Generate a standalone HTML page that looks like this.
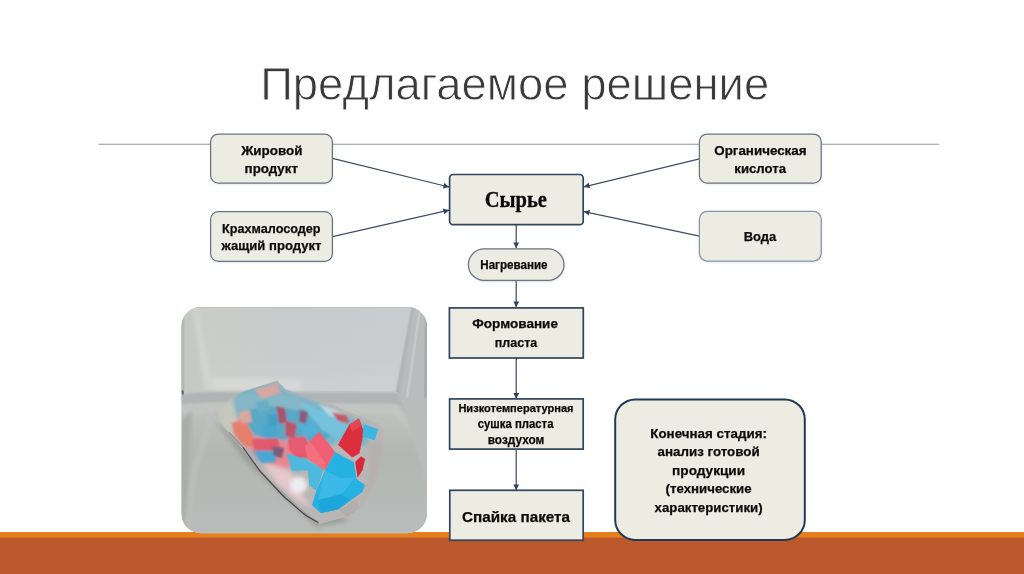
<!DOCTYPE html>
<html lang="ru">
<head>
<meta charset="utf-8">
<title>Предлагаемое решение</title>
<style>
html,body{margin:0;padding:0;background:#fff;}
body{width:1024px;height:574px;overflow:hidden;position:relative;font-family:"Liberation Sans",sans-serif;}
svg{position:absolute;left:0;top:0;display:block;}
text{font-family:"Liberation Sans",sans-serif;}
.b{font-weight:bold;fill:#0a0a0a;stroke:#0a0a0a;stroke-width:0.25px;}
.s{font-family:"Liberation Serif",serif;font-weight:bold;fill:#0a0a0a;stroke:#0a0a0a;stroke-width:0.3px;}
</style>
</head>
<body>
<svg width="1024" height="574" viewBox="0 0 1024 574">
<defs>
  <marker id="ah" viewBox="0 0 10 10" refX="9.6" refY="5" markerWidth="5.8" markerHeight="5.8" markerUnits="userSpaceOnUse" orient="auto">
    <path d="M0,0 L10,5 L0,10 z" fill="#30435c"/>
  </marker>
  <filter id="sh" x="-10%" y="-10%" width="120%" height="130%">
    <feGaussianBlur stdDeviation="1.2"/>
  </filter>
  <clipPath id="bagc"><polygon points="228.8,400 241.3,392.2 277.4,380.5 285.2,389 300,394 324,401 352,413 378,423 384,432 382,460 373,488 361,508 342,518 320,524 300,508 270,480 248,456 230.4,434.6 219.4,422 214.7,412.6"/></clipPath>
  <clipPath id="pc"><rect x="181.6" y="307" width="245.3" height="226.2" rx="19.5" ry="19.5"/></clipPath>
  <linearGradient id="wallg" x1="0" y1="0" x2="1" y2="0"><stop offset="0" stop-color="#cfd2d1"/><stop offset="0.5" stop-color="#d0d4d5"/><stop offset="1" stop-color="#cbd0d2"/></linearGradient>
  <linearGradient id="wallv" x1="0" y1="0" x2="0" y2="1"><stop offset="0" stop-color="#c5c9cb"/><stop offset="0.6" stop-color="#c8ccce"/><stop offset="1" stop-color="#d0d3d4"/></linearGradient>
  <linearGradient id="wallh" x1="0" y1="0" x2="1" y2="0"><stop offset="0" stop-color="#cbcdc4" stop-opacity="0.85"/><stop offset="0.45" stop-color="#cacdca" stop-opacity="0.3"/><stop offset="0.8" stop-color="#cbcfd1" stop-opacity="0.5"/><stop offset="1" stop-color="#cbcfd1" stop-opacity="0.5"/></linearGradient>
  <linearGradient id="floorg" gradientUnits="userSpaceOnUse" x1="0" y1="392" x2="0" y2="534"><stop offset="0" stop-color="#c5c8c5"/><stop offset="0.15" stop-color="#bdc0bd"/><stop offset="0.45" stop-color="#b3b7b4"/><stop offset="1" stop-color="#b8bcba"/></linearGradient>
  <filter id="bl1"><feGaussianBlur stdDeviation="0.6"/></filter>
  <filter id="bl3"><feGaussianBlur stdDeviation="0.95"/></filter>
  <filter id="bl4" x="-30%" y="-30%" width="160%" height="160%"><feGaussianBlur stdDeviation="5"/></filter>
  <filter id="bl2"><feGaussianBlur stdDeviation="2"/></filter>
</defs>

<!-- bottom bars -->
<rect x="0" y="532" width="1024" height="6" fill="#e5801c"/>
<rect x="0" y="537.5" width="1024" height="36.5" fill="#bd582c"/>

<!-- title -->
<text opacity="0.995" x="260.2" y="99.7" font-size="46" fill="#3a3a3a" stroke="#fff" stroke-width="0.8" textLength="509" lengthAdjust="spacingAndGlyphs">Предлагаемое решение</text>

<!-- rule -->
<rect x="98.5" y="143.7" width="840.5" height="1.1" fill="#9aa0a6"/>

<!-- photo -->
<g id="photo" clip-path="url(#pc)">
  <!-- back wall -->
  <rect x="181" y="306" width="247" height="228" fill="#c6cacc"/>
  <rect x="181" y="306" width="247" height="90" fill="url(#wallv)"/>
  <rect x="181" y="306" width="247" height="90" fill="url(#wallh)"/>
  <!-- left wall -->
  <polygon points="181,306 193,306 212,400 181,400" fill="#c5c9c4"/>
  <polygon points="193,308 197,308 213,392 205,392" fill="#d2d5d3" filter="url(#bl2)"/>
  <polygon points="181,306 184,306 184,392 181,392" fill="#aeb3b0" filter="url(#bl3)"/>
  <!-- right wall -->
  <polygon points="411.8,306 428,306 428,424 396,392.3" fill="#b8bcbc"/>
  <polygon points="411.8,306 414.5,306 399.5,396 396,392.3" fill="#b0b4b4" filter="url(#bl3)"/>
  <polygon points="419,306 421.5,306 408,402 405.5,400" fill="#c6c9c8" filter="url(#bl1)"/>
  <polygon points="425,306 428,306 428,424 424,418" fill="#a6aaa9" filter="url(#bl1)"/>
  <rect x="181" y="306" width="247" height="1.6" fill="#b4b8b7" opacity="0.8"/>
  <!-- floor -->
  <polygon points="181,391 211,389.5 396,391.5 428,420 428,534 181,534" fill="url(#floorg)"/>
  <polygon points="212,378 300,380 300,390.5 212,390" fill="#dadcda" opacity="0.75" filter="url(#bl2)"/>
  <polygon points="181,394 211,392 397,393 428,422 428,434 397,404 212,402.5 181,404" fill="#b0b4b5" filter="url(#bl3)"/>
  <polygon points="181,407 212,405 396,406 428,440 428,452 394,414 214,412 181,416" fill="#c3c6c3" filter="url(#bl2)"/>
  <!-- right wall lower triangle -->
  <polygon points="400,398 428,398 428,488" fill="#b9bcbb" filter="url(#bl3)"/>
  <polygon points="181,420 192,410 185,534 181,534" fill="#a9aca8" filter="url(#bl2)"/>
  <polygon points="209,416 213,420 196,474 188,534 184,534 192,470" fill="#bfc2be" opacity="0.8" filter="url(#bl2)"/>
  <rect x="181.5" y="390.5" width="2.2" height="4" fill="#5e6261" filter="url(#bl1)"/>
  <!-- bag shadow -->
  <polygon points="214,420 246,462 316,527 350,521 300,500 250,450" fill="#9b9e9b" filter="url(#bl2)"/>
  <!-- bag hull -->
  <polygon points="228.8,400 241.3,392.2 277.4,380.5 285.2,389 300,394 324,401 352,413 378,423 384,432 382,460 373,488 361,508 342,518 320,524 300,508 270,480 248,456 230.4,434.6 219.4,422 214.7,412.6" fill="#bab6b5" filter="url(#bl1)"/>
  <!-- haze layers -->
  <g clip-path="url(#bagc)"><g filter="url(#bl2)">
    <polygon points="231.6,401.6 246,387.2 277.6,382.9 286.2,391.6 315,401.6 335,413.1 355.2,418.9 372,428 366,446 340,440 318,452 300,470 286,473 257.5,462 243.1,441.8 234.5,421.7" fill="#74b4ca"/>
    <polygon points="229,418 246,418 254,436 282,438 300,448 304,460 286,470 262,462 246,446 234,432" fill="#e58890"/>
    <polygon points="262,462 290,470 300,492 312,508 296,500 276,482" fill="#e4c8cc"/>
    <polygon points="215,408 232,399 238,420 232,437 221,425" fill="#c6c8bd"/>
  </g>
  <!-- soft translucent pieces -->
  <g filter="url(#bl3)">
  <polygon points="254,389.5 277,383.5 281,393 262,399" fill="#d7a7a1"/>
  <polygon points="236,397 252,391 262,400 282,394 300,399 318,408 296,412 270,408 248,412 238,408" fill="#86b7c6"/>
  <polygon points="246,410 270,406 296,410 318,408 334,420 334,434 318,444 296,438 270,440 254,434 244,420" fill="#58a9c6"/>
  <polygon points="300,404 332,413 350,424 338,440 322,430" fill="#76c2de"/>
  <polygon points="318,404 336,410 346,418 330,416" fill="#bcd8e2"/>
  <polygon points="332,412 347,416 349,424 338,421" fill="#c65a64"/>
  <polygon points="231.6,423 246,420 252,434 254,446 244,446 235,434" fill="#e67f6c"/>
  <polygon points="238,412 250,410 252,422 242,424" fill="#d9a79f"/>
  <polygon points="252,439 278,438 281,454 262,456 254,449" fill="#df5a6b"/>
  <polygon points="276,406 285,408 287,422 279,424" fill="#a6546e"/>
  <polygon points="285,420 297,424 295,438 285,436" fill="#bd556b"/>
  <polygon points="268,414 278,416 276,428 268,426" fill="#439fc8"/>
  <polygon points="288,438 306,436 312,458 296,458 289,450" fill="#e6586b"/>
  <polygon points="262,424 276,426 278,438 264,438" fill="#48a6cf"/>
  <polygon points="296,424 312,420 320,432 306,438" fill="#52b1d8"/>
  <polygon points="300,410 308,412 306,424 299,422" fill="#8c5a78"/>
  <polygon points="256,402 268,400 270,410 258,412" fill="#6aaec6"/>
  <polygon points="253,450.5 274.7,451 276,462 262,463" fill="#47a8d4"/>
  <polygon points="272,446 284,448 282,458 274,456" fill="#7a5c7c"/>
  <polygon points="290,437 305,440 307,456 292,452" fill="#e65b6f"/>
  </g>
  </g>
  <g filter="url(#bl1)">
  <!-- lower blues -->
  <polygon points="286.2,453.3 304.9,459.1 323.6,469.1 316.4,490.7 309.2,485 307.8,470.6 292,470.6" fill="#4fb8de"/>
  <ellipse cx="298.5" cy="485" rx="8.5" ry="8.5" fill="#eceef3" filter="url(#bl2)"/>
  <!-- big pink -->
  <polygon points="304.9,446.1 319.3,431.8 335,451.9 325,470.6 307.8,459.1" fill="#f05f73"/>
  <polygon points="304.9,446.1 310,441 325,462 325,470.6 307.8,459.1" fill="#f4707f"/>
  <!-- vivid red right -->
  <polygon points="338,444.7 349.4,424.6 359,418.5 363.8,431.8 359.5,453.3 352.3,457.6" fill="#dc2d3c"/>
  <polygon points="349.4,424.6 359,418.5 361,426 352,432" fill="#e84452"/>
  <polygon points="355.2,462 361,456.2 365.2,459.1 362.4,470.6 357.5,477.8" fill="#d62c3b"/>
  <!-- blue right -->
  <polygon points="363.8,424.6 378.2,428.9 374.7,440.4 362.4,436.1" fill="#3ab6de"/>
  <!-- big blue bottom -->
  <polygon points="335,451.9 353.7,462 356.6,479.2 365.2,485 362.4,492.1 338,509.4 320.7,513.1 312,505 316.4,490.7 325,470.6" fill="#28b1e3"/>
  <polygon points="325,470.6 340,478 355,478 342,494 318,500" fill="#3bb9e7"/>
  <polygon points="318,500 342,494 350,500 338,509.4 320.7,513.1" fill="#1fa6da"/>
  <polygon points="339,510.5 356,499 360,508 347,517" fill="#b3adac"/>
  </g>
  <!-- bag right rim highlight -->
  <polygon points="366,446 379,440 383,448 381,462 372,488 362,506 364,490 370,470" fill="#b5b0b0" opacity="0.7" filter="url(#bl3)"/>
  <!-- bag dark edge -->
  <path d="M229,432 L243,447.4" stroke="#6a6664" stroke-width="1.1" fill="none" opacity="0.55" filter="url(#bl1)"/>
  <path d="M243,447.4 L260.4,471.6 L283.9,496.7 L305.8,515.5 L318.4,522.6" stroke="#4a4648" stroke-width="1.2" fill="none"/>
</g>

<!-- arrows -->
<g stroke="#3b4f69" stroke-width="1.25" fill="none">
  <line x1="332.5" y1="158.4" x2="449" y2="187" marker-end="url(#ah)"/>
  <line x1="332.5" y1="236.7" x2="449" y2="210.2" marker-end="url(#ah)"/>
  <line x1="699.5" y1="158.9" x2="584" y2="186.8" marker-end="url(#ah)"/>
  <line x1="699.5" y1="236.2" x2="584" y2="211.6" marker-end="url(#ah)"/>
  <line x1="516.2" y1="225" x2="516.2" y2="248" marker-end="url(#ah)"/>
  <line x1="516.2" y1="280.5" x2="516.2" y2="307" marker-end="url(#ah)"/>
  <line x1="516.2" y1="358" x2="516.2" y2="398.5" marker-end="url(#ah)"/>
  <line x1="516.2" y1="449.2" x2="516.2" y2="490" marker-end="url(#ah)"/>
</g>

<!-- rounded light boxes -->
<g>
  <g fill="#9aa3ad" opacity="0.3" filter="url(#sh)">
    <rect x="211" y="135.5" width="122" height="49" rx="7.8"/>
    <rect x="211" y="212.5" width="122" height="50" rx="7.8"/>
    <rect x="700" y="135.5" width="122" height="49" rx="7.8"/>
    <rect x="700" y="212.5" width="122" height="50" rx="7.8"/>
    <rect x="469" y="250" width="96" height="32" rx="16"/>
  </g>
  <g fill="#edece3" stroke="#667483" stroke-width="1.25">
    <rect x="210.6" y="134" width="121.8" height="49.2" rx="7.8"/>
    <rect x="210.6" y="211.6" width="121.8" height="49.8" rx="7.8"/>
    <rect x="699.4" y="134" width="121.8" height="49.2" rx="7.8"/>
    <rect x="699.4" y="211.4" width="121.8" height="49.6" rx="7.8" stroke="#8594ab"/>
    <rect x="468.4" y="248.9" width="95.5" height="31.5" rx="15.75"/>
  </g>
</g>

<!-- dark-border boxes -->
<g fill="#edece3" stroke="#30445f" stroke-width="1.7">
  <rect x="449.6" y="174.5" width="133.6" height="50.2" rx="3.5"/>
  <rect x="449.4" y="307.9" width="133.9" height="50.1"/>
  <rect x="449.6" y="398.9" width="133.6" height="50.2"/>
  <rect x="449.8" y="490.3" width="133.4" height="49.9"/>
  <rect x="615.2" y="399.4" width="189.6" height="140.5" rx="20" stroke="#213955" stroke-width="2"/>
</g>

<!-- texts -->
<g class="b" text-anchor="middle" opacity="0.995">
  <text x="271.9" y="154.7" font-size="13.6" textLength="61.4" lengthAdjust="spacingAndGlyphs">Жировой</text>
  <text x="271.3" y="172.9" font-size="13.6" textLength="53.4" lengthAdjust="spacingAndGlyphs">продукт</text>
  <text x="271.3" y="232.9" font-size="13.5" textLength="98.6" lengthAdjust="spacingAndGlyphs">Крахмалосодер</text>
  <text x="271.5" y="250" font-size="13.5" textLength="100" lengthAdjust="spacingAndGlyphs">жащий продукт</text>
  <text x="760.4" y="154.8" font-size="13.6" textLength="92.3" lengthAdjust="spacingAndGlyphs">Органическая</text>
  <text x="760.2" y="173" font-size="13.6" textLength="51.7" lengthAdjust="spacingAndGlyphs">кислота</text>
  <text x="760" y="241" font-size="13.4" textLength="32.6" lengthAdjust="spacingAndGlyphs">Вода</text>
  <text x="513.9" y="269.2" font-size="12.4" textLength="67.3" lengthAdjust="spacingAndGlyphs">Нагревание</text>
  <text x="515.1" y="328.4" font-size="13.4" textLength="85.8" lengthAdjust="spacingAndGlyphs">Формование</text>
  <text x="516" y="346.5" font-size="13.4" textLength="42.4" lengthAdjust="spacingAndGlyphs">пласта</text>
  <text x="516" y="412.1" font-size="10.2" textLength="115.2" lengthAdjust="spacingAndGlyphs">Низкотемпературная</text>
  <text x="515.6" y="427.7" font-size="12.2" textLength="75.8" lengthAdjust="spacingAndGlyphs">сушка пласта</text>
  <text x="516" y="443.5" font-size="12.2" textLength="56.5" lengthAdjust="spacingAndGlyphs">воздухом</text>
  <text x="516" y="521.8" font-size="15.5" textLength="108" lengthAdjust="spacingAndGlyphs">Спайка пакета</text>
  <text x="708.6" y="437.6" font-size="13.6" textLength="116.6" lengthAdjust="spacingAndGlyphs">Конечная стадия:</text>
  <text x="708.6" y="456.2" font-size="13.6" textLength="102" lengthAdjust="spacingAndGlyphs">анализ готовой</text>
  <text x="708.6" y="474.8" font-size="13.6" textLength="73" lengthAdjust="spacingAndGlyphs">продукции</text>
  <text x="708.6" y="493.4" font-size="13.6" textLength="86" lengthAdjust="spacingAndGlyphs">(технические</text>
  <text x="708.6" y="512.0" font-size="13.6" textLength="108" lengthAdjust="spacingAndGlyphs">характеристики)</text>
</g>
<text class="s" opacity="0.995" x="515.8" y="207.2" font-size="22.5" text-anchor="middle" textLength="62.3" lengthAdjust="spacingAndGlyphs">Сырье</text>
</svg>
</body>
</html>
